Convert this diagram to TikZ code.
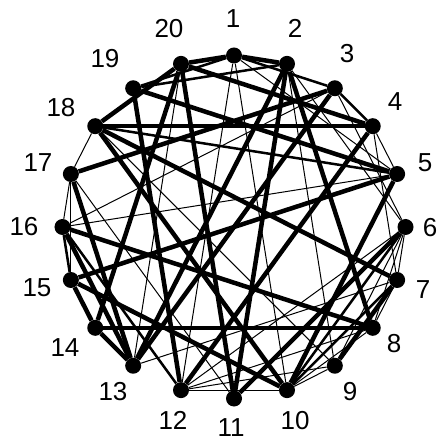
\documentclass[tikz,border=0pt]{standalone}
\usepackage{fontspec}
\setmainfont{Liberation Sans}
\begin{document}
\begin{tikzpicture}[x=1pt, y=1pt,
  vertex/.style={circle, fill=black, inner sep=0pt, minimum size=16pt},
  lbl/.style={font=\fontsize{26}{30}\selectfont, inner sep=0pt},
  heavy/.style={line width=4.5pt},
  mid/.style={line width=2.5pt},
  light/.style={line width=1pt}]
  \useasboundingbox (-234,-216) rectangle (205,227);
  % vertices on the circle, 1 at the top, clockwise
  \foreach \i in {1,...,20}
    \node[vertex] (v\i) at ({90-18*(\i-1)}:171.5) {};
  % vertex numbers
  \foreach \i/\px/\py in {1/233/19, 2/295/28, 3/347/54, 4/395/102, 5/425/163,
      6/430/228, 7/423/290, 8/394/344, 9/350/392, 10/295/421, 11/231/428,
      12/173/420, 13/113/392, 14/65/348, 15/37/288, 16/24/227, 17/38/163,
      18/61/108, 19/105/59, 20/169/29}
    \node[lbl] (l\i) at (\px-234, 227-\py) {\i};
  % edges
  \foreach \a/\b in {1/20, 1/2, 4/18, 8/14, 12/19, 2/11, 2/13, 13/14, 14/15,
      13/16, 13/17, 5/10, 3/17, 4/20, 5/19, 10/18, 8/16, 10/15, 14/20, 18/20,
      4/12, 6/11, 7/9, 2/8, 3/13, 7/18, 5/15, 11/20}
    \draw[heavy] (v\a) -- (v\b);
  \foreach \a/\b in {1/3, 2/19, 3/4, 5/18, 6/10, 7/10, 12/16, 15/16, 1/19}
    \draw[mid] (v\a) -- (v\b);
  \foreach \a/\b in {1/12, 1/10, 1/5, 2/9, 2/6, 3/6, 4/7, 4/5, 6/12, 6/9,
      6/7, 7/13, 8/12, 8/10, 9/12, 9/10, 10/12, 11/17, 13/20, 15/17, 16/17,
      17/18, 3/16, 5/16, 6/8, 7/8, 9/18}
    \draw[light] (v\a) -- (v\b);
\end{tikzpicture}
\end{document}
